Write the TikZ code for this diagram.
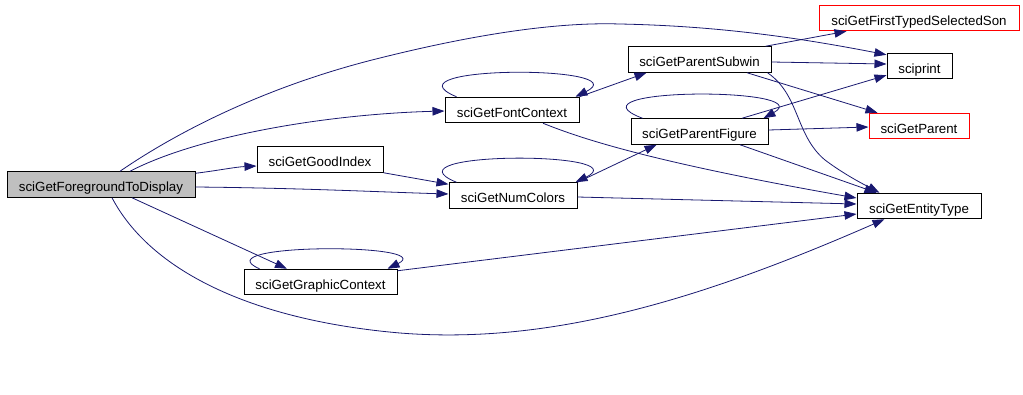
\documentclass[tikz,border=0pt]{standalone}
\usepackage{fontspec}
\setmainfont{Liberation Sans}
\usetikzlibrary{arrows.meta,calc}
\definecolor{edgeblue}{HTML}{191970}
\definecolor{fggray}{HTML}{BFBFBF}
\definecolor{extred}{HTML}{FF0000}
\begin{document}
\begin{tikzpicture}[x=1pt,y=-1pt,
  fn/.style={draw=black,line width=1pt,fill=white,inner sep=0pt,minimum height=25.5pt,
    font=\fontsize{13.3}{15}\selectfont,text height=16pt,text depth=2pt},
  rootfn/.style={fn,fill=fggray},
  extfn/.style={fn,draw=extred},
  call/.style={draw=edgeblue,line width=0.8pt,-{Triangle[length=12pt,width=8.5pt]}},
]
\useasboundingbox (0,0) rectangle (1023,394);
\fill[white] (0,0) rectangle (1023,394);

% nodes
\node[rootfn,minimum width=188pt] (FG) at (101,184.5) {sciGetForegroundToDisplay};
\node[fn,minimum width=126pt] (GI) at (320,159.5) {sciGetGoodIndex};
\node[fn,minimum width=134pt] (FC) at (512,110) {sciGetFontContext};
\node[fn,minimum width=128pt] (NC) at (513,195.5) {sciGetNumColors};
\node[fn,minimum width=153pt] (GC) at (320.5,282) {sciGetGraphicContext};
\node[fn,minimum width=143pt] (PS) at (699.5,59.5) {sciGetParentSubwin};
\node[fn,minimum width=137pt] (PF) at (699.5,131.5) {sciGetParentFigure};
\node[extfn,minimum width=200pt] (FTS) at (919,18) {sciGetFirstTypedSelectedSon};
\node[fn,minimum width=65pt] (SP) at (919.5,66) {sciprint};
\node[extfn,minimum width=100pt] (SGP) at (919,126) {sciGetParent};
\node[fn,minimum width=124pt] (ET) at (919,206) {sciGetEntityType};

% edges from sciGetForegroundToDisplay
\draw[call] ($(FG.north)+(19,0)$) .. controls (180,130) and (270,85) .. (380,58)
   .. controls (480,33) and (560,22) .. (620,24)
   .. controls (720,26) and (800,38) .. ($(SP.north west)+(0,2)$);
\draw[call] ($(FG.north)+(29,0)$) .. controls (200,135) and (330,114) .. ($(FC.west)+(0,1)$);
\draw[call] ($(FG.north east)+(0,2)$) .. controls (215,171) and (235,167) .. ($(GI.west)+(0,6.5)$);
\draw[call] ($(FG.east)+(0,2.5)$) .. controls (300,188) and (380,192) .. ($(NC.west)+(0,-1.5)$);
\draw[call] ($(FG.south)+(31,0)$) -- ($(GC.north)+(-33.5,0)$);
\draw[call] ($(FG.south)+(11,0)$) .. controls (150,270) and (250,320) .. (400,333)
   .. controls (550,345) and (700,300) .. ($(ET.south west)+(28,0)$);

% sciGetGoodIndex
\draw[call] (GI.south east) -- ($(NC.north west)+(0,2)$);

% self loops
\draw[call] ($(FC.north west)+(12,0)$) .. controls (380,65) and (640,65) .. ($(FC.north east)+(-4,0)$);
\draw[call] ($(NC.north west)+(8,0)$) .. controls (380,151) and (640,151) .. ($(NC.north east)+(-2,0)$);
\draw[call] ($(GC.north west)+(16,0)$) .. controls (200,243) and (440,243) .. ($(GC.north east)+(-10,0)$);
\draw[call] ($(PF.north west)+(12,0)$) .. controls (560,87) and (820,87) .. ($(PF.north east)+(-5,0)$);

% sciGetFontContext
\draw[call] (FC.north east) -- ($(PS.south west)+(19,0)$);
\draw[call] ($(FC.south)+(31,0)$) .. controls (575,136) and (640,160) .. ($(ET.west)+(0,-8)$);

% sciGetNumColors
\draw[call] (NC.north east) -- ($(PF.south west)+(26,0)$);
\draw[call] ($(NC.east)+(0,1.5)$) -- ($(ET.west)+(0,-2)$);

% sciGetGraphicContext
\draw[call] ($(GC.north east)+(0,2)$) -- ($(ET.west)+(0,8)$);

% sciGetParentSubwin
\draw[call] ($(PS.north east)+(-6,0)$) -- ($(FTS.south west)+(28,0)$);
\draw[call] ($(PS.east)+(0,2.5)$) -- ($(SP.west)+(0,-2)$);
\draw[call] ($(PS.south)+(47.5,0)$) -- ($(SGP.north west)+(9,0)$);
\draw[call] ($(PS.south east)+(-4,0)$) .. controls (800,95) and (795,135) .. (825,160)
   .. controls (845,175) and (865,185) .. ($(ET.north west)+(23,0)$);

% sciGetParentFigure
\draw[call] ($(PF.north)+(42.5,0)$) -- ($(SP.south west)+(0,-4)$);
\draw[call] ($(PF.east)+(0,-1.5)$) -- ($(SGP.west)+(0,1)$);
\draw[call] ($(PF.south)+(40.5,0)$) -- ($(ET.north west)+(20,0)$);
\end{tikzpicture}
\end{document}
